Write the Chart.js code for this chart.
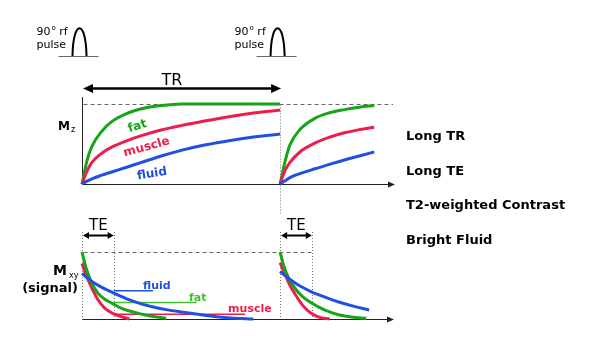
<!DOCTYPE html>
<html><head><meta charset="utf-8">
<script src="https://cdn.jsdelivr.net/npm/chart.js@4/dist/chart.umd.min.js"></script>
<style>
html,body{margin:0;padding:0;background:#fff;}
#wrap{position:relative;width:600px;height:357px;background:#fff;}
#wrap canvas{position:absolute;left:0;top:0;width:600px;height:357px;}
</style></head><body>
<div id="wrap">
<canvas id="cTop" width="600" height="357"></canvas>
<canvas id="cBot" width="600" height="357"></canvas>
</div>
<script>
// ---- timing parameters (ms) ----
const TR = 2000;
const TE = 320;
const pulseTimes = [0, TR];

// ---- longitudinal recovery Mz (top panel) ----
const mzTime   = [0, 50, 100, 200, 300, 450, 600, 800, 1000, 1250, 1500, 1750, 2000, 2000, 2000, 2050, 2100, 2200, 2350, 2500, 2650, 2800, 2950];
const mzFat    = [0, 0.29, 0.47, 0.66, 0.78, 0.88, 0.94, 0.98, 1.0, 1.0, 1.0, 1.0, 1.0, null, 0, 0.28, 0.49, 0.68, 0.82, 0.89, 0.93, 0.96, 0.98];
const mzMuscle = [0, 0.16, 0.27, 0.385, 0.46, 0.54, 0.605, 0.675, 0.73, 0.79, 0.845, 0.89, 0.925, null, 0, 0.17, 0.27, 0.40, 0.51, 0.585, 0.64, 0.68, 0.71];
const mzFluid  = [0, 0.035, 0.065, 0.11, 0.15, 0.21, 0.27, 0.35, 0.42, 0.49, 0.545, 0.59, 0.625, null, 0, 0.04, 0.08, 0.13, 0.19, 0.245, 0.30, 0.35, 0.40];

// ---- transverse decay Mxy (bottom panel) ----
const mxyTime   = [0, 40, 90, 160, 230, 310, 400, 480, 600, 720, 850, 1000, 1150, 1300, 1500, 1730, 1900, 2000, 2040, 2090, 2160, 2230, 2310, 2400, 2500, 2600, 2720, 2870, 2900];
const mxyFat    = [1.0, 0.77, 0.565, 0.385, 0.295, 0.23, 0.158, 0.12, 0.073, 0.038, 0.01, null, null, null, null, null, null, 1.0, 0.78, 0.60, 0.44, 0.33, 0.245, 0.17, 0.105, 0.06, 0.03, 0.01, null];
const mxyMuscle = [0.83, 0.66, 0.49, 0.29, 0.16, 0.085, 0.033, 0.0, null, null, null, null, null, null, null, null, null, 0.84, 0.70, 0.53, 0.35, 0.20, 0.09, 0.025, 0.0, null, null, null, null];
const mxyFluid  = [0.68, 0.63, 0.57, 0.505, 0.45, 0.395, 0.335, 0.285, 0.225, 0.18, 0.14, 0.105, 0.075, 0.045, 0.015, 0.0, null, 0.71, 0.66, 0.60, 0.53, 0.47, 0.41, 0.355, 0.30, 0.25, 0.20, 0.145, 0.135];

// signal read at TE: [fluid, fat, muscle]
const teTissues = ['fluid', 'fat', 'muscle'];
const teLevel   = [0.42, 0.245, 0.07];
const teLineEnd = [717, 1158, 1646];

// ---- text ----
const sideNotes = ['Long TR', 'Long TE', 'T2-weighted Contrast', 'Bright Fluid'];

// ---- styles ----
const COL = {fat:'#17a517', muscle:'#ee1d4b', fluid:'#1f50e0', fatLight:'#3dc22d'};
const FONT = '"DejaVu Sans", Verdana, sans-serif';

const mk = (times, vals) => times.map((t, i) => ({x: t, y: vals[i]}));

function line(ctx, x1, y1, x2, y2){ctx.beginPath();ctx.moveTo(x1,y1);ctx.lineTo(x2,y2);ctx.stroke();}
function head(ctx, tipX, y, dir, len, half){
  ctx.beginPath(); ctx.moveTo(tipX, y);
  ctx.lineTo(tipX - dir*len, y - half); ctx.lineTo(tipX - dir*len, y + half);
  ctx.closePath(); ctx.fill();
}
function dblArrow(ctx, xa, xb, y, len, half, lw){
  ctx.lineWidth = lw;
  line(ctx, xa + len*0.7, y, xb - len*0.7, y);
  head(ctx, xa, y, -1, len, half);
  head(ctx, xb, y, 1, len, half);
}

const curveDS = (label, data, color, w) => ({
  label, data, borderColor: color, backgroundColor: color, borderWidth: w,
  pointRadius: 0, fill: false, spanGaps: false, cubicInterpolationMode: 'monotone', clip: 8
});

// ================= TOP CHART =================
const topPlugin = {
  id: 'mzDecor',
  beforeDatasetsDraw(chart){
    const {ctx, chartArea: a, scales: {x, y}} = chart;
    const x0 = Math.round(x.getPixelForValue(0)) + 0.5;
    const yb = Math.round(y.getPixelForValue(0)) + 0.5;
    const y1 = Math.round(y.getPixelForValue(1)) + 0.5;
    const xt = Math.round(x.getPixelForValue(TR)) + 0.5;
    ctx.save();
    ctx.strokeStyle = '#666'; ctx.lineWidth = 1; ctx.setLineDash([4, 3]);
    line(ctx, x0 + 1, y1, a.right - 1, y1);
    ctx.setLineDash([1, 2]); ctx.strokeStyle = '#777';
    line(ctx, xt, y1, xt, 215);
    ctx.setLineDash([]);
    ctx.strokeStyle = '#222'; ctx.fillStyle = '#222'; ctx.lineWidth = 1;
    line(ctx, x0, a.top, x0, yb);
    line(ctx, x0, yb, a.right - 4, yb);
    head(ctx, a.right + 1, yb, 1, 7, 3);
    ctx.restore();
  },
  afterDatasetsDraw(chart){
    const {ctx, chartArea: a, scales: {x, y}} = chart;
    const x0 = x.getPixelForValue(0);
    const xt = x.getPixelForValue(TR);
    ctx.save();
    ctx.textBaseline = 'alphabetic'; ctx.textAlign = 'left';
    // rf pulses
    pulseTimes.forEach(t => {
      const xc = x.getPixelForValue(t) - 2.5;
      ctx.strokeStyle = '#666'; ctx.lineWidth = 1;
      line(ctx, xc - 21, 56.5, xc + 19, 56.5);
      ctx.strokeStyle = '#000'; ctx.lineWidth = 2;
      ctx.beginPath(); ctx.moveTo(xc - 7, 56);
      ctx.bezierCurveTo(xc - 6.5, 19, xc + 6.5, 19, xc + 7, 56); ctx.stroke();
      ctx.fillStyle = '#000';
      let tx = xc - 43;
      ctx.font = '11px ' + FONT; ctx.fillText('90', tx, 35);
      tx += ctx.measureText('90').width + 1;
      ctx.font = '7px ' + FONT; ctx.fillText('o', tx, 30);
      tx += ctx.measureText('o').width;
      ctx.font = '11px ' + FONT; ctx.fillText(' rf', tx, 35);
      ctx.fillText('pulse', xc - 43, 48);
    });
    // TR arrow
    ctx.fillStyle = '#000'; ctx.strokeStyle = '#000';
    dblArrow(ctx, x0 + 1, xt + 1, 88.5, 10, 4.5, 2.5);
    ctx.font = '16px ' + FONT; ctx.textAlign = 'center';
    ctx.fillText('TR', x0 + 90, 85);
    // Mz label
    ctx.textAlign = 'left';
    ctx.font = 'bold 12px ' + FONT; ctx.fillText('M', 58, 130);
    ctx.font = '8px ' + FONT; ctx.fillText('z', 71, 132);
    // curve labels
    const lab = (txt, t, v, rot, col) => {
      ctx.save();
      ctx.translate(x.getPixelForValue(t), y.getPixelForValue(v));
      ctx.rotate(rot);
      ctx.font = 'bold 12px ' + FONT; ctx.fillStyle = col;
      ctx.textAlign = 'center'; ctx.textBaseline = 'middle';
      ctx.fillText(txt, 0, 0);
      ctx.restore();
    };
    lab('fat', 560, 0.72, -0.31, COL.fat);
    lab('muscle', 653, 0.46, -0.27, COL.muscle);
    lab('fluid', 707, 0.125, -0.16, COL.fluid);
    // side notes
    ctx.fillStyle = '#000'; ctx.font = 'bold 13px ' + FONT; ctx.textAlign = 'left';
    const bl = [140, 175, 209, 244];
    sideNotes.forEach((s, i) => ctx.fillText(s, a.right + 12, bl[i]));
    ctx.restore();
  }
};

new Chart(document.getElementById('cTop'), {
  type: 'line',
  data: {
    datasets: [
      curveDS('fluid', mk(mzTime, mzFluid), COL.fluid, 3),
      curveDS('muscle', mk(mzTime, mzMuscle), COL.muscle, 3),
      curveDS('fat', mk(mzTime, mzFat), COL.fat, 3)
    ]
  },
  options: {
    responsive: false, animation: false, devicePixelRatio: 1,
    layout: {padding: {left: 82, right: 206, top: 97, bottom: 173}},
    plugins: {legend: {display: false}, tooltip: {enabled: false}},
    scales: {
      x: {type: 'linear', min: 0, max: 3150, display: false},
      y: {type: 'linear', min: 0, max: 1.0875, display: false}
    }
  },
  plugins: [topPlugin]
});

// ================= BOTTOM CHART =================
const botPlugin = {
  id: 'mxyDecor',
  beforeDatasetsDraw(chart){
    const {ctx, chartArea: a, scales: {x, y}} = chart;
    const px = t => Math.round(x.getPixelForValue(t)) + 0.5;
    const yb = Math.round(y.getPixelForValue(0)) + 0.5;
    const y1 = Math.round(y.getPixelForValue(1)) + 0.5;
    ctx.save();
    ctx.strokeStyle = '#666'; ctx.lineWidth = 1; ctx.setLineDash([4, 3]);
    line(ctx, px(0) + 1, y1, px(TR + TE), y1);
    ctx.setLineDash([1, 2]); ctx.strokeStyle = '#777';
    [0, TE, TR, TR + TE].forEach(t => line(ctx, px(t), 232, px(t), yb));
    ctx.setLineDash([]);
    ctx.strokeStyle = '#222'; ctx.fillStyle = '#222';
    line(ctx, px(0), yb, a.right - 4, yb);
    head(ctx, a.right, yb, 1, 7, 3);
    ctx.restore();
  },
  afterDatasetsDraw(chart){
    const {ctx, scales: {x, y}} = chart;
    ctx.save();
    ctx.fillStyle = '#000'; ctx.strokeStyle = '#000';
    [0, TR].forEach(t0 => {
      const xa = x.getPixelForValue(t0) + 1, xb = x.getPixelForValue(t0 + TE);
      dblArrow(ctx, xa, xb, 235.5, 6, 3.5, 2);
      ctx.font = '15px ' + FONT; ctx.textAlign = 'center'; ctx.textBaseline = 'alphabetic';
      ctx.fillText('TE', (xa + xb) / 2, 230);
    });
    // tissue labels sitting on the TE signal lines
    const labStart = [616, 1081, 1475];
    const labCol = [COL.fluid, COL.fatLight, COL.muscle];
    ctx.font = 'bold 11px ' + FONT; ctx.textAlign = 'left';
    teTissues.forEach((s, i) => {
      ctx.fillStyle = labCol[i];
      ctx.fillText(s, x.getPixelForValue(labStart[i]), y.getPixelForValue(teLevel[i]) - 2);
    });
    // Mxy label
    ctx.fillStyle = '#000';
    ctx.font = 'bold 14px ' + FONT; ctx.fillText('M', 53, 275);
    ctx.font = '8px ' + FONT; ctx.fillText('xy', 69, 278);
    ctx.font = 'bold 13px ' + FONT; ctx.textAlign = 'right';
    ctx.fillText('(signal)', 78, 292);
    ctx.restore();
  }
};

const teDS = teTissues.map((s, i) => ({
  label: s + ' @TE',
  data: [{x: TE, y: teLevel[i]}, {x: teLineEnd[i], y: teLevel[i]}],
  borderColor: [COL.fluid, COL.fatLight, COL.muscle][i],
  borderWidth: 1.5, pointRadius: 0, fill: false, clip: 8
}));

new Chart(document.getElementById('cBot'), {
  type: 'line',
  data: {
    datasets: [
      curveDS('fluid', mk(mxyTime, mxyFluid), COL.fluid, 3),
      curveDS('fat', mk(mxyTime, mxyFat), COL.fat, 3),
      curveDS('muscle', mk(mxyTime, mxyMuscle), COL.muscle, 3),
      ...teDS
    ]
  },
  options: {
    responsive: false, animation: false, devicePixelRatio: 1,
    layout: {padding: {left: 82, right: 206, top: 252, bottom: 38}},
    plugins: {legend: {display: false}, tooltip: {enabled: false}},
    scales: {
      x: {type: 'linear', min: 0, max: 3150, display: false},
      y: {type: 'linear', min: 0, max: 1, display: false}
    }
  },
  plugins: [botPlugin]
});
</script>
</body></html>
